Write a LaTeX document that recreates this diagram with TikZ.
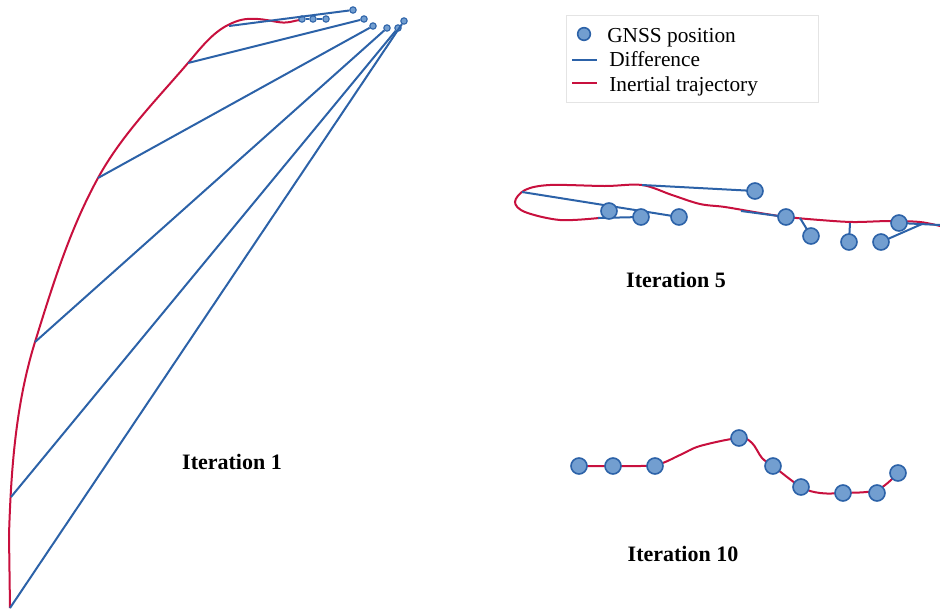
\documentclass[tikz,border=0pt]{standalone}
\usepackage{fontspec}
\setmainfont{Liberation Serif}
\definecolor{diffblue}{RGB}{44,98,168}
\definecolor{dotblue}{RGB}{114,158,208}
\definecolor{inertred}{RGB}{200,16,62}
\definecolor{boxgray}{RGB}{228,228,228}
\tikzset{
  gnss/.style={circle,draw=diffblue,fill=dotblue,line width=1.2pt,inner sep=0pt,minimum size=12pt},
  gnsssmall/.style={gnss,line width=0.8pt,minimum size=4.8pt},
  diff/.style={draw=diffblue,line width=1.5pt},
  inert/.style={draw=inertred,line width=1.5pt},
  iterlabel/.style={inner sep=0.75pt,font=\fontsize{16.5}{20}\selectfont\bfseries},
  legtext/.style={anchor=base west,inner sep=0.75pt,font=\fontsize{16}{20}\selectfont}
}
\begin{document}
\begin{tikzpicture}[x=0.75pt,y=0.75pt,yscale=-1,xscale=1]
\useasboundingbox (0,0) rectangle (940,611);

%Legend box
\draw [boxgray,fill=white] (566,15) rectangle (818,102);
\node [gnss,minimum size=9.5pt] (leggnss) at (584,34) {};
\coordinate (legdiffa) at (572,60);
\coordinate (legdiffb) at (597,60);
\draw [diff] (legdiffa) -- (legdiffb);
\coordinate (leginerta) at (572,83);
\coordinate (leginertb) at (597,83);
\draw [inert] (leginerta) -- (leginertb);
% Text Node
\node [legtext] (legone) at (606,42) {GNSS position};
% Text Node
\node [legtext] (legtwo) at (608,66) {Difference};
% Text Node
\node [legtext] (legthree) at (608,91) {Inertial trajectory};

%Iteration 1: inertial trajectory
\draw [inert] (10,608) -- (9,535) .. controls (11,470) and (15.7,404) .. (35,342) .. controls (52.5,285.7) and (69.6,229.7) .. (98,178) .. controls (121.6,135) and (156.1,100.2) .. (188,63) .. controls (199.7,49.3) and (211.8,33.1) .. (228,25) .. controls (238,20) and (245,18) .. (258,19) .. controls (272,20) and (280,24) .. (290,22) .. controls (295,21) and (298,20) .. (300,20);
\coordinate (ia) at (229,26);
\coordinate (ib) at (188,63);
\coordinate (ic) at (98,178);
\coordinate (id) at (35,342);
\coordinate (ie) at (11,497);
\coordinate (if) at (10,608);
\node [gnsssmall] (ga) at (353,10) {};
\node [gnsssmall] (gb) at (302,19) {};
\node [gnsssmall] (gc) at (313,19) {};
\node [gnsssmall] (gd) at (326,19) {};
\node [gnsssmall] (ge) at (364,19) {};
\node [gnsssmall] (gf) at (373,26) {};
\node [gnsssmall] (gg) at (387,28) {};
\node [gnsssmall] (gh) at (398,28) {};
\node [gnsssmall] (gi) at (404,21) {};
\draw [diff] (ia) -- (ga);
\draw [diff] (gb) -- (gc) -- (gd);
\draw [diff] (ib) -- (ge);
\draw [diff] (ic) -- (gf);
\draw [diff] (id) -- (gg);
\draw [diff] (ie) -- (gh);
\draw [diff] (if) -- (gi);
% Text Node
\node [iterlabel] (iterone) at (232,462) {Iteration 1};

%Iteration 5: inertial trajectory
\draw [inert] plot [smooth,tension=0.55] coordinates {(599,218) (560,220) (525,212) (515,202) (525,190) (550,185) (605,186) (642,185) (672,195) (700,204) (725,207) (760,213) (787,217) (820,220) (853,222) (890,221) (920,222) (940,226)};
\coordinate (va) at (522,192);
\coordinate (vb) at (598,218);
\coordinate (vc) at (642,185);
\coordinate (vd) at (741,211);
\coordinate (ve) at (800,218);
\coordinate (vf) at (850,223);
\coordinate (vg) at (922,224);
\coordinate (vh) at (940,225);
\draw [diff] (va) -- (679,217);
\draw [diff] (vb) -- (641,217);
\draw [diff] (vc) -- (755,191);
\draw [diff] (vd) -- (786,217);
\draw [diff] (ve) -- (811,236);
\draw [diff] (vf) -- (849,242);
\draw [diff] (881,242) -- (vg);
\draw [diff] (899,223) -- (vh);
\node [gnss] (fa) at (609,211) {};
\node [gnss] (fb) at (641,217) {};
\node [gnss] (fc) at (679,217) {};
\node [gnss] (fd) at (755,191) {};
\node [gnss] (fe) at (786,217) {};
\node [gnss] (ff) at (811,236) {};
\node [gnss] (fg) at (849,242) {};
\node [gnss] (fh) at (881,242) {};
\node [gnss] (fi) at (899,223) {};
% Text Node
\node [iterlabel] (iterfive) at (676,280) {Iteration 5};

%Iteration 10: inertial trajectory
\draw [inert] plot [smooth,tension=0.55] coordinates {(579,466) (613,466) (655,465) (680,455) (700,446) (739,438) (752,443) (762,458) (773,466) (801,487) (820,493) (843,493) (877,490) (898,473)};
\node [gnss] (ta) at (579,466) {};
\node [gnss] (tb) at (613,466) {};
\node [gnss] (tc) at (655,466) {};
\node [gnss] (td) at (739,438) {};
\node [gnss] (te) at (773,466) {};
\node [gnss] (tf) at (801,487) {};
\node [gnss] (tg) at (843,493) {};
\node [gnss] (th) at (877,493) {};
\node [gnss] (ti) at (898,473) {};
% Text Node
\node [iterlabel] (iterten) at (683,554) {Iteration 10};
\end{tikzpicture}
\end{document}
